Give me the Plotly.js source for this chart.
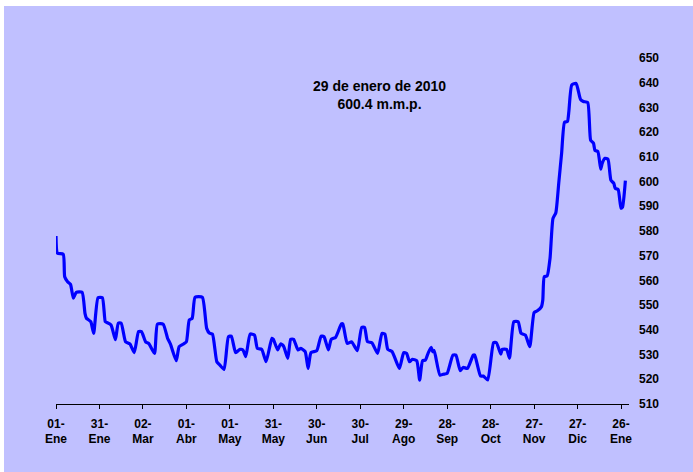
<!DOCTYPE html>
<html>
<head>
<meta charset="utf-8">
<script src="https://cdn.plot.ly/plotly-3.0.1.min.js"></script>
<style>html,body{margin:0;padding:0;background:#fff;}#chart{width:693px;height:472px;}</style>
</head>
<body>
<div id="chart"></div>
<script>
const fechas = [
 "2009-01-01","2009-01-02","2009-01-06","2009-01-07","2009-01-09","2009-01-11","2009-01-13","2009-01-15","2009-01-19","2009-01-21",
 "2009-01-22","2009-01-25","2009-01-27","2009-01-30","2009-02-02","2009-02-04","2009-02-05","2009-02-08","2009-02-11","2009-02-13",
 "2009-02-15","2009-02-18","2009-02-21","2009-02-24","2009-02-27","2009-03-01","2009-03-04","2009-03-06","2009-03-10","2009-03-12",
 "2009-03-16","2009-03-19","2009-03-21","2009-03-25","2009-03-27","2009-03-30","2009-04-01","2009-04-03","2009-04-05","2009-04-07",
 "2009-04-12","2009-04-15","2009-04-17","2009-04-19","2009-04-22","2009-04-24","2009-04-27","2009-04-30","2009-05-02","2009-05-05",
 "2009-05-08","2009-05-10","2009-05-12","2009-05-15","2009-05-18","2009-05-20","2009-05-23","2009-05-26","2009-05-30","2009-05-31",
 "2009-06-03","2009-06-05","2009-06-07","2009-06-10","2009-06-12","2009-06-14","2009-06-17","2009-06-19","2009-06-22","2009-06-24",
 "2009-06-26","2009-06-30","2009-07-03","2009-07-05","2009-07-08","2009-07-10","2009-07-13","2009-07-17","2009-07-18","2009-07-21",
 "2009-07-24","2009-07-28","2009-07-31","2009-08-02","2009-08-04","2009-08-07","2009-08-11","2009-08-14","2009-08-16","2009-08-18",
 "2009-08-21","2009-08-26","2009-08-29","2009-08-31","2009-09-02","2009-09-04","2009-09-07","2009-09-09","2009-09-11","2009-09-13",
 "2009-09-15","2009-09-17","2009-09-18","2009-09-19","2009-09-23","2009-09-26","2009-09-28","2009-10-02","2009-10-04","2009-10-07",
 "2009-10-09","2009-10-12","2009-10-16","2009-10-17","2009-10-21","2009-10-23","2009-10-26","2009-10-30","2009-11-01","2009-11-04",
 "2009-11-05","2009-11-08","2009-11-10","2009-11-13","2009-11-16","2009-11-18","2009-11-21","2009-11-24","2009-11-27","2009-11-29",
 "2009-12-02","2009-12-03","2009-12-04","2009-12-06","2009-12-08","2009-12-10","2009-12-12","2009-12-14","2009-12-16","2009-12-18",
 "2009-12-20","2009-12-21","2009-12-23","2009-12-26","2009-12-29","2009-12-31","2010-01-03","2010-01-05","2010-01-07","2010-01-08",
 "2010-01-10","2010-01-12","2010-01-13","2010-01-15","2010-01-17","2010-01-19","2010-01-21","2010-01-22","2010-01-24","2010-01-26",
 "2010-01-27","2010-01-29"
];
const valores = [
 578,571,570.6,561.5,559.5,558.4,552.8,555.2,555.2,546.7,
 544.7,543.3,538.6,553,553,543.3,543,542,536,542.7,
 542.7,535.2,534.3,530.8,539.3,539.3,535,534.5,530.5,542.3,
 542.3,536.6,534.2,527.5,533.2,534.3,535.2,544,544.7,553.2,
 553.2,540.6,538.6,538.3,527.1,525.8,524,537.2,537.5,530.8,
 532.1,531.9,529.2,538.3,537.9,532.5,532.1,527.1,536.6,536.2,
 531.9,534.3,533.5,528.5,536.2,536.2,531.9,532.5,531.2,524.4,
 530.8,531.6,537.5,537.2,531.9,536.2,537,542.4,542.4,534.5,
 535.2,531.6,541,541,535.2,534.8,530.5,538.6,538.3,532.1,
 531.2,524.4,530.8,530.5,527.1,528.1,527.5,519.7,527.5,527.8,
 530.8,532.9,531.2,531.6,521.7,522.1,522.4,529.8,529.8,523.5,
 524.8,524.4,529.8,529.8,521.3,521.3,519.7,534.8,534.8,530.2,
 532.1,532.1,528.5,543.3,543.3,538.6,537.9,533.2,547,547.6,
 549.3,552.1,561.5,561.8,569,585,587.4,599.3,611.5,624,
 624.3,628.4,639.1,639.7,633.3,632.4,632,616.8,615.5,612.6,
 612.2,605,607.4,609.4,609,600.6,599.3,597.2,596.8,589.2,
 589.6,600.4
];
const tickFechas = ["2009-01-01","2009-01-31","2009-03-02","2009-04-01","2009-05-01","2009-05-31","2009-06-30","2009-07-30","2009-08-29","2009-09-28","2009-10-28","2009-11-27","2009-12-27","2010-01-26"];
const tickTextos = ["01-<br>Ene","31-<br>Ene","02-<br>Mar","01-<br>Abr","01-<br>May","31-<br>May","30-<br>Jun","30-<br>Jul","29-<br>Ago","28-<br>Sep","28-<br>Oct","27-<br>Nov","27-<br>Dic","26-<br>Ene"];
const nota = "29 de enero de 2010<br>600.4 m.m.p.";

const fam = "Arial, 'Liberation Sans', sans-serif";
const trace = {
  x: fechas, y: valores, type: 'scatter', mode: 'lines',
  line: {color: '#0000FF', width: 3.2, shape: 'spline', smoothing: 0.5},
  hoverinfo: 'skip'
};
const layout = {
  width: 693, height: 472,
  margin: {l: 56, r: 64, t: 58, b: 68},
  paper_bgcolor: '#FFFFFF',
  plot_bgcolor: 'rgba(0,0,0,0)',
  showlegend: false,
  font: {family: fam, color: '#000000', size: 12},
  xaxis: {
    type: 'date',
    range: ['2009-01-01', '2010-01-31 12:00'],
    tickmode: 'array', tickvals: tickFechas, ticktext: tickTextos,
    ticks: 'outside', ticklen: 4, tickcolor: '#000', tickwidth: 1,
    ticklabelstandoff: 4,
    showline: true, linecolor: '#000', linewidth: 1.3,
    showgrid: false, zeroline: false,
    tickfont: {family: fam, size: 12, color: '#000', weight: 'bold'},
    fixedrange: true
  },
  yaxis: {
    side: 'right',
    range: [510, 650], dtick: 10, tick0: 510,
    showline: false, showgrid: false, zeroline: false, ticks: '',
    ticklabelstandoff: 9,
    tickfont: {family: fam, size: 12, color: '#000', weight: 'bold'},
    fixedrange: true
  },
  shapes: [{
    type: 'rect', xref: 'paper', yref: 'paper', layer: 'below',
    x0: -52/573, x1: 64/573 + 1, y0: -68/346, y1: 1 + 52/346,
    fillcolor: '#C0C0FF', line: {width: 0}
  }],
  annotations: [{
    xref: 'paper', yref: 'paper', x: 0.564, y: 0.894,
    xanchor: 'center', yanchor: 'middle', showarrow: false,
    text: nota, align: 'center',
    font: {family: fam, size: 14, color: '#000', weight: 'bold'}
  }]
};
Plotly.newPlot('chart', [trace], layout, {displayModeBar: false, staticPlot: true});
</script>
</body>
</html>
